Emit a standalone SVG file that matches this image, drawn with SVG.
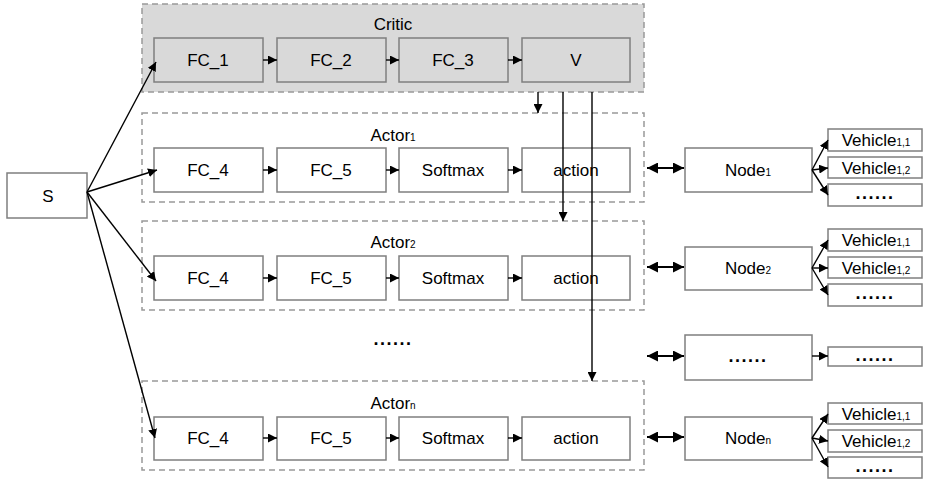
<svg xmlns="http://www.w3.org/2000/svg" width="925" height="481" viewBox="0 0 925 481">
<defs>
<marker id="ah" markerUnits="userSpaceOnUse" markerWidth="9" markerHeight="9" viewBox="0 0 10 10" refX="10" refY="5" orient="auto"><path d="M0,0 L10,5 L0,10 z" fill="#000"/></marker>
<marker id="ah2" markerUnits="userSpaceOnUse" markerWidth="11" markerHeight="11" viewBox="0 0 10 10" refX="10" refY="5" orient="auto-start-reverse"><path d="M0,0 L10,5 L0,10 z" fill="#000"/></marker>
</defs>
<style>
.cont{fill:none;stroke:#999;stroke-width:1.5;stroke-dasharray:6,4}
.box{fill:#fff;stroke:#7f7f7f;stroke-width:1.5}
.cbox{fill:#d9d9d9;stroke:#7f7f7f;stroke-width:1.5}
text{font-family:"Liberation Sans",Arial,sans-serif;font-size:17px;fill:#000;text-anchor:middle}
.sub{font-size:10px}
.dots{font-weight:bold;font-size:18px;letter-spacing:1.5px}
.c{stroke:#000;stroke-width:1.4;fill:none}
.d{stroke:#000;stroke-width:2.2;fill:none}
</style>
<g id="critic">
<rect x="142" y="4" width="502" height="88" fill="#d9d9d9" stroke="#999" stroke-width="1.5" stroke-dasharray="6,4"/>
<text x="393" y="30">Critic</text>
</g>
<g id="fc1"><rect class="cbox" x="154" y="38" width="109" height="44"/><text x="208" y="66">FC_1</text></g>
<g id="fc2"><rect class="cbox" x="277" y="38" width="109" height="44"/><text x="331" y="66">FC_2</text></g>
<g id="fc3"><rect class="cbox" x="399" y="38" width="109" height="44"/><text x="453" y="66">FC_3</text></g>
<g id="v"><rect class="cbox" x="522" y="38" width="108" height="44"/><text x="576" y="66">V</text></g>

<g id="actor1">
<rect class="cont" x="142" y="113" width="502" height="89"/>
<text x="393" y="141">Actor<tspan class="sub">1</tspan></text>
</g>
<g id="a1fc4"><rect class="box" x="154" y="148" width="109" height="44"/><text x="208" y="176">FC_4</text></g>
<g id="a1fc5"><rect class="box" x="277" y="148" width="109" height="44"/><text x="331" y="176">FC_5</text></g>
<g id="a1sm"><rect class="box" x="399" y="148" width="109" height="44"/><text x="453" y="176">Softmax</text></g>
<g id="a1act"><rect class="box" x="522" y="148" width="108" height="44"/><text x="576" y="176">action</text></g>

<g id="actor2">
<rect class="cont" x="142" y="221" width="502" height="89"/>
<text x="393" y="248">Actor<tspan class="sub">2</tspan></text>
</g>
<g id="a2fc4"><rect class="box" x="154" y="256" width="109" height="44"/><text x="208" y="284">FC_4</text></g>
<g id="a2fc5"><rect class="box" x="277" y="256" width="109" height="44"/><text x="331" y="284">FC_5</text></g>
<g id="a2sm"><rect class="box" x="399" y="256" width="109" height="44"/><text x="453" y="284">Softmax</text></g>
<g id="a2act"><rect class="box" x="522" y="256" width="108" height="44"/><text x="576" y="284">action</text></g>

<g id="mid-dots"><text class="dots" x="393" y="345">......</text></g>

<g id="actorn">
<rect class="cont" x="142" y="381" width="502" height="89"/>
<text x="393" y="409">Actor<tspan class="sub">n</tspan></text>
</g>
<g id="anfc4"><rect class="box" x="154" y="417" width="109" height="43"/><text x="208" y="444">FC_4</text></g>
<g id="anfc5"><rect class="box" x="277" y="417" width="109" height="43"/><text x="331" y="444">FC_5</text></g>
<g id="ansm"><rect class="box" x="399" y="417" width="109" height="43"/><text x="453" y="444">Softmax</text></g>
<g id="anact"><rect class="box" x="522" y="417" width="108" height="43"/><text x="576" y="444">action</text></g>

<g id="s"><rect class="box" x="7" y="173" width="80" height="45"/><text x="48" y="202">S</text></g>

<g id="node1"><rect class="box" x="685" y="148" width="127" height="44"/><text x="748" y="176">Node<tspan class="sub">1</tspan></text></g>
<g id="node2"><rect class="box" x="685" y="247" width="127" height="43"/><text x="748" y="274">Node<tspan class="sub">2</tspan></text></g>
<g id="nodedots"><rect class="box" x="685" y="335" width="127" height="45"/><text class="dots" x="748" y="362">......</text></g>
<g id="noden"><rect class="box" x="685" y="417" width="127" height="43"/><text x="748" y="444">Node<tspan class="sub">n</tspan></text></g>

<g id="veh1-1"><rect class="box" x="828" y="129" width="94" height="22"/><text x="876" y="146">Vehicle<tspan class="sub">1,1</tspan></text></g>
<g id="veh1-2"><rect class="box" x="828" y="157" width="94" height="21"/><text x="876" y="174">Vehicle<tspan class="sub">1,2</tspan></text></g>
<g id="veh1-d"><rect class="box" x="828" y="184" width="94" height="22"/><text class="dots" x="875" y="199">......</text></g>
<g id="veh2-1"><rect class="box" x="828" y="229" width="94" height="22"/><text x="876" y="246">Vehicle<tspan class="sub">1,1</tspan></text></g>
<g id="veh2-2"><rect class="box" x="828" y="257" width="94" height="21"/><text x="876" y="274">Vehicle<tspan class="sub">1,2</tspan></text></g>
<g id="veh2-d"><rect class="box" x="828" y="284" width="94" height="22"/><text class="dots" x="875" y="299">......</text></g>
<g id="vehd"><rect class="box" x="828" y="347" width="94" height="19"/><text class="dots" x="875" y="361">......</text></g>
<g id="vehn-1"><rect class="box" x="828" y="403" width="94" height="21"/><text x="876" y="420">Vehicle<tspan class="sub">1,1</tspan></text></g>
<g id="vehn-2"><rect class="box" x="828" y="430" width="94" height="22"/><text x="876" y="447">Vehicle<tspan class="sub">1,2</tspan></text></g>
<g id="vehn-d"><rect class="box" x="828" y="457" width="94" height="21"/><text class="dots" x="875" y="472">......</text></g>

<g id="connectors">
<line class="c" x1="263" y1="60" x2="277" y2="60" marker-end="url(#ah)"/>
<line class="c" x1="386" y1="60" x2="399" y2="60" marker-end="url(#ah)"/>
<line class="c" x1="508" y1="60" x2="522" y2="60" marker-end="url(#ah)"/>
<line class="c" x1="263" y1="170" x2="277" y2="170" marker-end="url(#ah)"/>
<line class="c" x1="386" y1="170" x2="399" y2="170" marker-end="url(#ah)"/>
<line class="c" x1="508" y1="170" x2="522" y2="170" marker-end="url(#ah)"/>
<line class="c" x1="263" y1="278" x2="277" y2="278" marker-end="url(#ah)"/>
<line class="c" x1="386" y1="278" x2="399" y2="278" marker-end="url(#ah)"/>
<line class="c" x1="508" y1="278" x2="522" y2="278" marker-end="url(#ah)"/>
<line class="c" x1="263" y1="438" x2="277" y2="438" marker-end="url(#ah)"/>
<line class="c" x1="386" y1="438" x2="399" y2="438" marker-end="url(#ah)"/>
<line class="c" x1="508" y1="438" x2="522" y2="438" marker-end="url(#ah)"/>
<line class="c" x1="87" y1="192" x2="156" y2="62" marker-end="url(#ah)"/>
<line class="c" x1="87" y1="192" x2="157" y2="170" marker-end="url(#ah)"/>
<line class="c" x1="87" y1="192" x2="156" y2="281" marker-end="url(#ah)"/>
<line class="c" x1="87" y1="192" x2="155" y2="438" marker-end="url(#ah)"/>
<line class="c" x1="538" y1="92" x2="538" y2="113" marker-end="url(#ah)"/>
<line class="c" x1="563" y1="92" x2="563" y2="221" marker-end="url(#ah)"/>
<line class="c" x1="592" y1="92" x2="592" y2="381" marker-end="url(#ah)"/>
<line class="d" x1="647" y1="168" x2="684" y2="168" marker-start="url(#ah2)" marker-end="url(#ah2)"/>
<line class="d" x1="647" y1="267" x2="684" y2="267" marker-start="url(#ah2)" marker-end="url(#ah2)"/>
<line class="d" x1="647" y1="356" x2="684" y2="356" marker-start="url(#ah2)" marker-end="url(#ah2)"/>
<line class="d" x1="647" y1="437" x2="684" y2="437" marker-start="url(#ah2)" marker-end="url(#ah2)"/>
<line class="c" x1="812" y1="170" x2="828" y2="140" marker-end="url(#ah)"/>
<line class="c" x1="812" y1="170" x2="828" y2="168" marker-end="url(#ah)"/>
<line class="c" x1="812" y1="170" x2="828" y2="195" marker-end="url(#ah)"/>
<line class="c" x1="812" y1="268" x2="828" y2="240" marker-end="url(#ah)"/>
<line class="c" x1="812" y1="268" x2="828" y2="268" marker-end="url(#ah)"/>
<line class="c" x1="812" y1="268" x2="828" y2="295" marker-end="url(#ah)"/>
<line class="c" x1="812" y1="356" x2="828" y2="356" marker-end="url(#ah)"/>
<line class="c" x1="812" y1="438" x2="828" y2="414" marker-end="url(#ah)"/>
<line class="c" x1="812" y1="438" x2="828" y2="441" marker-end="url(#ah)"/>
<line class="c" x1="812" y1="438" x2="828" y2="467" marker-end="url(#ah)"/>
</g>
</svg>
